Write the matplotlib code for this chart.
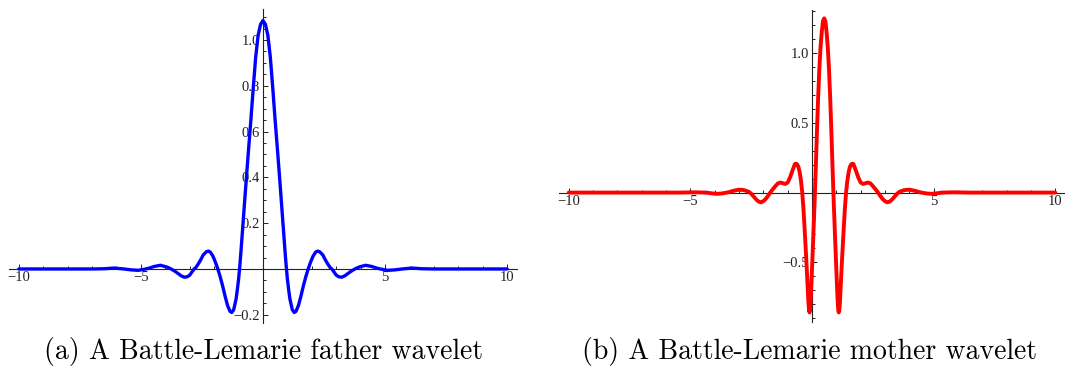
import matplotlib
matplotlib.use("Agg")
import matplotlib.pyplot as plt
from matplotlib.ticker import FixedLocator, FixedFormatter

# ─── Data ────────────────────────────────────────────────────────────────────

# (a) father wavelet phi(x)
father_x = [-10, -9, -8, -7, -6.5, -6.1, -5.7, -5.4, -5.1, -4.8, -4.65, -4.45,
            -4.2, -3.95, -3.8, -3.65, -3.5, -3.35, -3.22, -3.1, -3.0, -2.9,
            -2.82, -2.75, -2.65, -2.55, -2.45, -2.32, -2.24, -2.16, -2.05, -1.95,
            -1.85, -1.75, -1.65, -1.55, -1.45, -1.35, -1.28, -1.2, -1.1, -1.05,
            -1.0, -0.95, -0.9, -0.8, -0.7, -0.6, -0.5, -0.4, -0.3, -0.2, -0.1,
            0,
            0.1, 0.2, 0.3, 0.4, 0.5, 0.6, 0.7, 0.8, 0.9, 0.95, 1.0,
            1.05, 1.1, 1.2, 1.28, 1.35, 1.45, 1.55, 1.65, 1.75, 1.85,
            1.95, 2.05, 2.16, 2.24, 2.32, 2.45, 2.55, 2.65, 2.75, 2.82,
            2.9, 3.0, 3.1, 3.22, 3.35, 3.5, 3.65, 3.8, 3.95, 4.2,
            4.45, 4.65, 4.8, 5.1, 5.4, 5.7, 6.1, 6.5, 7, 8, 9, 10]
father_y = [0.0, 0.0, 0.0, 0.0, 0.001, 0.004, 0.0, -0.004, -0.006, 0.0, 0.004, 0.011,
            0.016, 0.009, 0.002, -0.007, -0.018, -0.03, -0.036, -0.034, -0.027, -0.012,
            0.0, 0.006, 0.022, 0.04, 0.061, 0.075, 0.078, 0.074, 0.056, 0.03,
            0.0, -0.035, -0.075, -0.12, -0.16, -0.185, -0.19, -0.178, -0.13, -0.09,
            -0.045, 0.012, 0.08, 0.225, 0.37, 0.51, 0.645, 0.79, 0.925, 1.02, 1.068,
            1.085,
            1.068, 1.02, 0.925, 0.79, 0.645, 0.51, 0.37, 0.225, 0.08, 0.012, -0.045,
            -0.09, -0.13, -0.178, -0.19, -0.185, -0.16, -0.12, -0.075, -0.035, 0.0,
            0.03, 0.056, 0.074, 0.078, 0.075, 0.061, 0.04, 0.022, 0.006, 0.0,
            -0.012, -0.027, -0.034, -0.036, -0.03, -0.018, -0.007, 0.002, 0.009, 0.016,
            0.011, 0.004, 0.0, -0.006, -0.004, 0.0, 0.004, 0.001, 0.0, 0.0, 0.0, 0.0]

# (b) mother wavelet psi(x), symmetric about x = 0.5
mother_x = [-10, -9, -8, -7, -6, -5.5, -4.8, -4.35, -4.1, -3.9, -3.7, -3.5,
            -3.4, -3.2, -3.0, -2.8, -2.6, -2.5, -2.4, -2.3, -2.2, -2.1, -2.0,
            -1.9, -1.8, -1.7, -1.6, -1.5, -1.4, -1.3, -1.2, -1.1, -1.0, -0.9,
            -0.8, -0.7, -0.65, -0.6, -0.55, -0.5, -0.45, -0.4, -0.35, -0.3,
            -0.25, -0.2, -0.15, -0.12, -0.1, -0.08, -0.05, 0.0, 0.05, 0.1,
            0.12, 0.15, 0.2, 0.25, 0.3, 0.35, 0.4, 0.45,
            0.5,
            0.55, 0.6, 0.65, 0.7, 0.75, 0.8, 0.85, 0.88, 0.9, 0.95, 1.0,
            1.05, 1.08, 1.1, 1.12, 1.15, 1.2, 1.25, 1.3, 1.35, 1.4, 1.45,
            1.5, 1.55, 1.6, 1.65, 1.7, 1.8, 1.9, 2.0, 2.1, 2.2, 2.3, 2.4,
            2.5, 2.6, 2.7, 2.8, 2.9, 3.0, 3.1, 3.2, 3.3, 3.4, 3.5, 3.6,
            3.8, 4.0, 4.2, 4.4, 4.5, 4.7, 4.9, 5.1, 5.35, 5.8, 6.5, 7, 8, 9, 10]
mother_y = [0.0, 0.0, 0.0, 0.0, 0.0, 0.0, 0.002, 0.0, -0.006, -0.009, -0.006, 0.0,
            0.004, 0.014, 0.021, 0.018, 0.006, -0.008, -0.028, -0.048, -0.064, -0.07, -0.062,
            -0.045, -0.022, 0.004, 0.026, 0.047, 0.066, 0.072, 0.067, 0.062, 0.072, 0.11,
            0.16, 0.205, 0.207, 0.2, 0.18, 0.14, 0.08, 0.0, -0.12, -0.27,
            -0.43, -0.6, -0.78, -0.85, -0.86, -0.845, -0.76, -0.55, -0.33, -0.1,
            0.0, 0.15, 0.42, 0.67, 0.88, 1.04, 1.15, 1.23,
            1.25,
            1.23, 1.15, 1.04, 0.88, 0.67, 0.42, 0.15, 0.0, -0.1, -0.33, -0.55,
            -0.76, -0.845, -0.86, -0.85, -0.78, -0.6, -0.43, -0.27, -0.12, 0.0, 0.08,
            0.14, 0.18, 0.2, 0.207, 0.205, 0.16, 0.11, 0.072, 0.062, 0.067, 0.072, 0.066,
            0.047, 0.026, 0.004, -0.022, -0.045, -0.062, -0.07, -0.064, -0.048, -0.028, -0.008, 0.006,
            0.018, 0.021, 0.014, 0.004, 0.0, -0.006, -0.009, -0.006, 0.0, 0.002, 0.0, 0.0, 0.0, 0.0, 0.0]

# ticks
x_major = [-10, -5, 5, 10]
x_major_labels = ["\u221210", "\u22125", "5", "10"]
x_minor = [-9, -8, -7, -6, -4, -3, -2, -1, 1, 2, 3, 4, 6, 7, 8, 9]

father_y_major = [-0.2, 0.2, 0.4, 0.6, 0.8, 1.0]
father_y_labels = ["\u22120.2", "0.2", "0.4", "0.6", "0.8", "1.0"]
father_y_minor = [-0.15, -0.1, -0.05, 0.05, 0.1, 0.15, 0.25, 0.3, 0.35, 0.45,
                  0.5, 0.55, 0.65, 0.7, 0.75, 0.85, 0.9, 0.95, 1.05, 1.1]

mother_y_major = [-0.5, 0.5, 1.0]
mother_y_labels = ["\u22120.5", "0.5", "1.0"]
mother_y_minor = [-0.9, -0.8, -0.7, -0.6, -0.4, -0.3, -0.2, -0.1, 0.1, 0.2,
                  0.3, 0.4, 0.6, 0.7, 0.8, 0.9, 1.1, 1.2, 1.3]

captions = ["(a) A Battle-Lemarie father wavelet",
            "(b) A Battle-Lemarie mother wavelet"]

TICK_FONT = "Liberation Serif"


def style_axes(ax, y_major, y_labels, y_minor):
    """Mathematica-like axes crossing at the origin."""
    for side in ("top", "right"):
        ax.spines[side].set_visible(False)
    ax.spines["left"].set_position(("data", 0))
    ax.spines["bottom"].set_position(("data", 0))
    for side in ("left", "bottom"):
        ax.spines[side].set_linewidth(0.8)
        ax.spines[side].set_color("#222222")
        ax.spines[side].set_zorder(1)

    ax.xaxis.set_major_locator(FixedLocator(x_major))
    ax.xaxis.set_major_formatter(FixedFormatter(x_major_labels))
    ax.xaxis.set_minor_locator(FixedLocator(x_minor))
    ax.yaxis.set_major_locator(FixedLocator(y_major))
    ax.yaxis.set_major_formatter(FixedFormatter(y_labels))
    ax.yaxis.set_minor_locator(FixedLocator(y_minor))

    ax.tick_params(which="both", direction="in", color="#222222", width=0.7)
    ax.tick_params(which="major", length=3.5)
    ax.tick_params(which="minor", length=2)
    ax.tick_params(axis="x", pad=1.5)
    ax.tick_params(axis="y", pad=2)
    for lab in ax.get_xticklabels() + ax.get_yticklabels():
        lab.set_fontfamily(TICK_FONT)
        lab.set_fontsize(10.5)
        lab.set_color("#222222")


fig = plt.figure(figsize=(10.65, 3.69), dpi=100)

# panel (a)
ax1 = fig.add_axes([9 / 1065, 1 - 323 / 369, 508 / 1065, 313.7 / 369])
ax1.plot(father_x, father_y, color="#0000ff", lw=2.4, zorder=3,
         solid_joinstyle="round", solid_capstyle="round")
ax1.set_xlim(-10.4, 10.4)
ax1.set_ylim(-0.236, 1.134)
style_axes(ax1, father_y_major, father_y_labels, father_y_minor)

# panel (b)
ax2 = fig.add_axes([559 / 1065, 1 - 322.2 / 369, 506 / 1065, 312.2 / 369])
ax2.plot(mother_x, mother_y, color="#ff0000", lw=2.8, zorder=3,
         solid_joinstyle="round", solid_capstyle="round")
ax2.set_xlim(-10.4, 10.4)
ax2.set_ylim(-0.93, 1.31)
style_axes(ax2, mother_y_major, mother_y_labels, mother_y_minor)

# captions
fig.text(263 / 1065, 1 - 352 / 369, captions[0], ha="center", va="center",
         fontfamily="cmr10", fontsize=20)
fig.text(810 / 1065, 1 - 352 / 369, captions[1], ha="center", va="center",
         fontfamily="cmr10", fontsize=20)

fig.savefig("out.png", dpi=100)
